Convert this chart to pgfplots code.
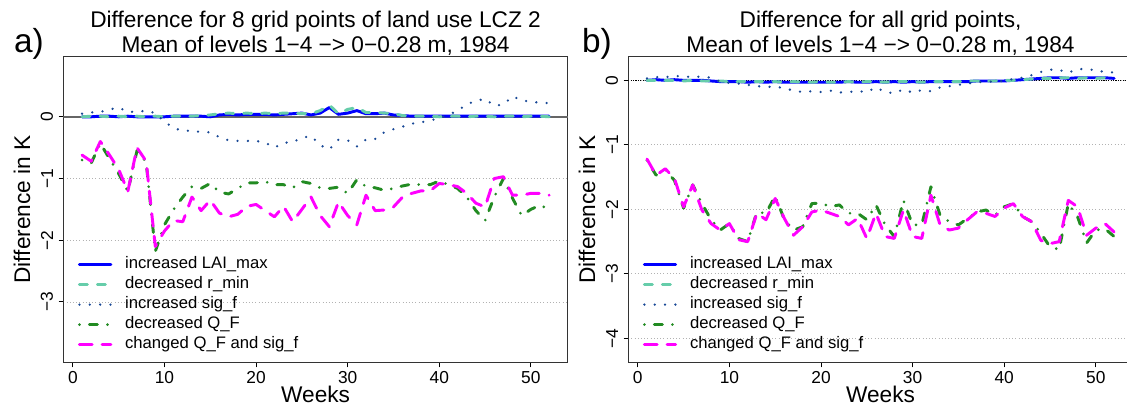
\documentclass[border=0pt]{standalone}
\usepackage{fontspec}
\setmainfont{Liberation Sans}
\usepackage{pgfplots}
\usepackage{pgfplotstable}
\pgfplotsset{compat=1.18}

\definecolor{cLAI}{RGB}{0,0,255}
\definecolor{cRmin}{RGB}{102,205,170}
\definecolor{cSig}{RGB}{24,72,150}
\definecolor{cQF}{RGB}{34,139,34}
\definecolor{cChg}{RGB}{255,0,255}

\pgfplotstableread{
w lai rmin sig qf chg
1 0.00 0.00 0.05 -0.70 -0.62
2 0.00 0.01 0.07 -0.75 -0.72
3 0.01 0.01 0.08 -0.43 -0.40
4 0.01 0.00 0.12 -0.68 -0.62
5 0.00 0.01 0.15 -0.92 -0.85
6 0.01 0.00 0.08 -1.21 -1.21
7 0.00 0.01 0.08 -0.55 -0.50
8 0.00 0.00 0.10 -0.73 -0.72
9 0.00 0.01 0.06 -2.18 -2.10
10 0.00 0.00 -0.08 -1.75 -1.85
11 0.01 0.01 -0.18 -1.50 -1.68
12 0.01 0.01 -0.23 -1.30 -1.70
13 0.01 0.01 -0.22 -1.13 -1.30
14 0.01 0.02 -0.25 -1.16 -1.52
15 0.00 0.03 -0.25 -1.08 -1.35
16 0.03 0.05 -0.33 -1.22 -1.56
17 0.04 0.06 -0.38 -1.25 -1.62
18 0.03 0.05 -0.39 -1.16 -1.58
19 0.04 0.06 -0.39 -1.07 -1.45
20 0.04 0.05 -0.39 -1.07 -1.42
21 0.04 0.06 -0.42 -1.05 -1.52
22 0.03 0.05 -0.50 -1.10 -1.62
23 0.04 0.06 -0.42 -1.10 -1.45
24 0.05 0.06 -0.41 -1.15 -1.70
25 0.06 0.05 -0.34 -1.05 -1.50
26 0.03 0.05 -0.31 -1.08 -1.30
27 0.06 0.10 -0.46 -1.15 -1.60
28 0.15 0.19 -0.53 -1.16 -1.78
29 0.04 0.05 -0.37 -1.14 -1.38
30 0.06 0.12 -0.38 -1.24 -1.60
31 0.10 0.15 -0.48 -1.02 -1.75
32 0.05 0.07 -0.37 -1.13 -1.27
33 0.05 0.07 -0.36 -1.15 -1.52
34 0.06 0.06 -0.25 -1.19 -1.51
35 0.03 0.05 -0.20 -1.16 -1.46
36 0.02 0.02 -0.16 -1.12 -1.30
37 0.01 0.01 -0.11 -1.09 -1.24
38 0.01 0.01 -0.09 -1.10 -1.20
39 0.01 0.01 -0.06 -1.10 -1.20
40 0.01 0.00 -0.02 -1.04 -1.08
41 0.01 0.01 0.03 -1.10 -1.10
42 0.01 0.01 0.10 -1.16 -1.13
43 0.01 0.00 0.20 -1.30 -1.24
44 0.01 0.01 0.26 -1.52 -1.40
45 0.01 0.01 0.29 -1.68 -1.46
46 0.01 0.00 0.18 -1.30 -1.00
47 0.01 0.01 0.20 -1.00 -0.97
48 0.01 0.01 0.33 -1.32 -1.27
49 0.01 0.00 0.27 -1.60 -1.27
50 0.01 0.01 0.24 -1.50 -1.24
51 0.01 0.01 0.23 -1.43 -1.24
52 0.01 0.00 0.22 -1.50 -1.27
}\dataA

\pgfplotstableread{
w lai rmin sig qf chg
1 0.00 0.00 0.03 -1.24 -1.22
2 0.01 0.00 0.05 -1.47 -1.47
3 0.00 0.00 0.05 -1.39 -1.37
4 0.01 0.00 0.07 -1.55 -1.52
5 0.00 -0.01 0.06 -1.98 -1.96
6 0.00 0.00 0.05 -1.62 -1.62
7 0.00 -0.01 0.06 -1.91 -2.01
8 -0.01 -0.01 0.04 -2.16 -2.22
9 -0.02 -0.01 -0.02 -2.32 -2.32
10 -0.02 -0.02 -0.04 -2.22 -2.22
11 -0.02 -0.02 -0.05 -2.45 -2.47
12 -0.03 -0.02 -0.07 -2.50 -2.50
13 -0.02 -0.02 -0.09 -2.04 -2.06
14 -0.03 -0.02 -0.10 -2.06 -2.16
15 -0.02 -0.02 -0.10 -1.79 -1.83
16 -0.03 -0.03 -0.12 -2.16 -2.14
17 -0.03 -0.02 -0.16 -2.32 -2.40
18 -0.03 -0.03 -0.18 -2.27 -2.27
19 -0.03 -0.03 -0.17 -1.91 -2.04
20 -0.03 -0.02 -0.18 -1.90 -2.01
21 -0.03 -0.03 -0.16 -1.96 -2.06
22 -0.03 -0.03 -0.19 -1.93 -2.11
23 -0.02 -0.02 -0.18 -2.06 -2.24
24 -0.03 -0.03 -0.17 -2.06 -2.14
25 -0.03 -0.02 -0.18 -2.16 -2.45
26 -0.02 -0.02 -0.11 -1.93 -2.06
27 -0.03 -0.03 -0.18 -2.24 -2.42
28 -0.02 -0.02 -0.20 -2.42 -2.45
29 -0.03 -0.02 -0.14 -1.86 -2.01
30 -0.02 -0.02 -0.19 -2.24 -2.42
31 -0.03 -0.03 -0.15 -2.24 -2.45
32 -0.02 -0.02 -0.17 -1.65 -1.78
33 -0.02 -0.02 -0.11 -2.09 -2.24
34 -0.02 -0.02 -0.09 -2.19 -2.32
35 -0.02 -0.02 -0.07 -2.24 -2.29
36 -0.02 -0.01 -0.05 -2.14 -2.16
37 -0.01 -0.01 -0.03 -2.04 -2.04
38 -0.01 -0.01 -0.02 -2.01 -2.06
39 -0.01 -0.01 -0.02 -2.09 -2.11
40 -0.01 0.00 -0.01 -1.96 -1.98
41 0.00 0.00 0.02 -1.91 -1.91
42 0.01 0.01 0.04 -2.11 -2.11
43 0.02 0.02 0.08 -2.19 -2.19
44 0.03 0.03 0.13 -2.37 -2.48
45 0.04 0.03 0.165 -2.58 -2.53
46 0.04 0.04 0.16 -2.62 -2.50
47 0.03 0.04 0.12 -1.91 -1.86
48 0.04 0.03 0.17 -2.11 -1.96
49 0.04 0.04 0.18 -2.52 -2.40
50 0.04 0.03 0.15 -2.32 -2.29
51 0.04 0.04 0.13 -2.30 -2.22
52 0.03 0.03 0.12 -2.42 -2.35
}\dataB

\pgfplotsset{
  panel/.style={
    scale only axis, width=378.4pt, height=230pt,
    clip mode=individual,
    xmin=-1.04, xmax=54.04,
    xtick={0,10,20,30,40,50},
    tick align=outside, xtick pos=bottom, ytick pos=left,
    major tick length=3.5pt,
    axis line style={black!80, line width=0.75pt},
    every tick/.style={black, line width=0.75pt},
    ymajorgrids, grid style={black!30, dotted, line width=0.7pt},
    /pgf/number format/assume math mode=true,
    ticklabel style={font=\fontsize{13}{15}\selectfont},
    yticklabel style={rotate=90, anchor=south, inner sep=0pt},
    xticklabel style={anchor=north, inner sep=0pt},
    xticklabel shift=3pt, yticklabel shift=4pt,
    xlabel={Weeks}, ylabel={Difference in K},
    every axis x label/.style={at={(axis description cs:0.5,0)}, anchor=base, yshift=-30pt, font=\fontsize{17}{20}\selectfont},
    every axis y label/.style={at={(axis description cs:0,0.5)}, rotate=90, anchor=center, yshift=31pt, font=\fontsize{17}{20}\selectfont},
    legend cell align=left,
    legend style={at={(axis description cs:0,0)}, anchor=south west, xshift=10.8pt, yshift=7.5pt,
      draw=none, fill=none, inner sep=0pt, row sep=3.2pt, column sep=0pt,
      nodes={font=\fontsize{12.5}{15}\selectfont, inner sep=0pt, text height=9pt, text depth=2.8pt}},
    legend image code/.code={\path[draw=none, fill=none] (0pt,-3pt) rectangle (34.2pt,3pt); \draw[##1] (0pt,0pt) -- (23.5pt,0pt);},
  },
  sLAI/.style={cLAI, line width=2.2pt, line cap=round, line join=round},
  sRmin/.style={cRmin, line width=2.2pt, line cap=round, line join=round, dash pattern=on 6pt off 7.5pt},
  sSig/.style={cSig, line width=1.9pt, line cap=round, line join=round, dash pattern=on 0pt off 7.75pt},
  sQF/.style={cQF, line width=2.2pt, line cap=round, line join=round, dash pattern=on 0pt off 7.5pt on 6pt off 7.5pt},
  sChg/.style={cChg, line width=2.2pt, line cap=round, line join=round, dash pattern=on 9.5pt off 7.5pt},
}

\begin{document}
\begin{tikzpicture}
\useasboundingbox (0,0) rectangle (845.25pt,305.25pt);
\clip (0,0) rectangle (845.25pt,305.25pt);

% Panel a
\begin{axis}[panel, at={(47.5pt,33.2pt)}, anchor=south west,
  ymin=-3.984, ymax=0.984, ytick={-3,-2,-1,0}, yticklabels={−3,−2,−1,0}]
\addplot[forget plot, black!60, line width=1.2pt] coordinates {(-1.04,0) (54.04,0)};
\addplot[sLAI] table[x=w,y=lai] {\dataA};
\addlegendentry{increased LAI\_max}
\addplot[sRmin] table[x=w,y=rmin] {\dataA};
\addlegendentry{decreased r\_min}
\addplot[sSig] table[x=w,y=sig] {\dataA};
\addlegendentry{increased sig\_f}
\addplot[sQF] table[x=w,y=qf] {\dataA};
\addlegendentry{decreased Q\_F}
\addplot[sChg] table[x=w,y=chg] {\dataA};
\addlegendentry{changed Q\_F and sig\_f}
\node[anchor=base, font=\fontsize{17}{20}\selectfont] at (axis description cs:0.5,1) [yshift=21.75pt] {Difference for 8 grid points of land use LCZ 2};
\node[anchor=base, font=\fontsize{17}{20}\selectfont] at (axis description cs:0.5,1) [yshift=3pt] {Mean of levels 1−4 −> 0−0.28 m, 1984};
\end{axis}

% Panel b
\begin{axis}[panel, at={(471.2pt,33.2pt)}, anchor=south west,
  ymin=-4.376, ymax=0.376, ytick={-4,-3,-2,-1,0}, yticklabels={−4,−3,−2,−1,0}]
\addplot[forget plot, black, line width=0.8pt, densely dotted] coordinates {(-1.04,0) (54.04,0)};
\addplot[sLAI] table[x=w,y=lai] {\dataB};
\addlegendentry{increased LAI\_max}
\addplot[sRmin] table[x=w,y=rmin] {\dataB};
\addlegendentry{decreased r\_min}
\addplot[sSig] table[x=w,y=sig] {\dataB};
\addlegendentry{increased sig\_f}
\addplot[sQF] table[x=w,y=qf] {\dataB};
\addlegendentry{decreased Q\_F}
\addplot[sChg] table[x=w,y=chg] {\dataB};
\addlegendentry{changed Q\_F and sig\_f}
\node[anchor=base, font=\fontsize{17}{20}\selectfont] at (axis description cs:0.5,1) [yshift=21.75pt] {Difference for all grid points,};
\node[anchor=base, font=\fontsize{17}{20}\selectfont] at (axis description cs:0.5,1) [yshift=3pt] {Mean of levels 1−4 −> 0−0.28 m, 1984};
\end{axis}

\node[anchor=base west, font=\fontsize{25}{28}\selectfont] at (7pt,266pt) {a)};
\node[anchor=base west, font=\fontsize{25}{28}\selectfont] at (433pt,266pt) {b)};
\end{tikzpicture}
\end{document}
